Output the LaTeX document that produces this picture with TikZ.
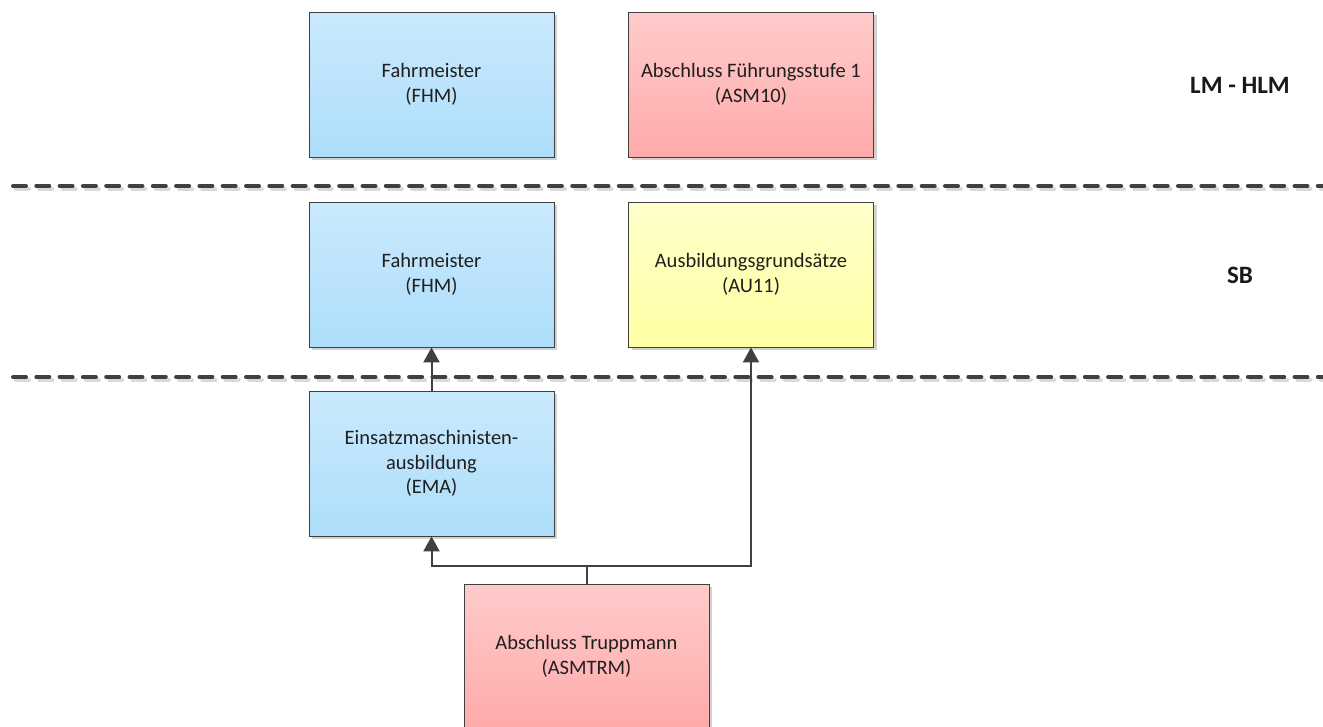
\documentclass[tikz,border=0pt]{standalone}
\usepackage{fontspec}
\setmainfont{Carlito}
\usetikzlibrary{arrows.meta,shadows}
\definecolor{bluetop}{HTML}{CAE9FC}
\definecolor{bluebot}{HTML}{ADDEFB}
\definecolor{redtop}{HTML}{FFCBCB}
\definecolor{redbot}{HTML}{FFAAAA}
\definecolor{yeltop}{HTML}{FFFFCA}
\definecolor{yelbot}{HTML}{FFFFA3}
\definecolor{linegray}{HTML}{404040}
\begin{document}
\begin{tikzpicture}[x=1pt,y=-1pt,
  box/.style={draw=linegray, line width=0.8pt, minimum width=245pt, minimum height=145pt,
    align=center, font=\fontsize{20.5}{24.5}\selectfont, text=black!88,
    drop shadow={shadow xshift=3pt, shadow yshift=-3pt, fill=black!18, opacity=1}},
  bluebox/.style={box, top color=bluetop, bottom color=bluebot},
  redbox/.style={box, top color=redtop, bottom color=redbot},
  yellowbox/.style={box, top color=yeltop, bottom color=yelbot},
  lane/.style={draw=linegray, line width=4pt, line cap=round, dash pattern=on 13pt off 10.3pt},
  laneshadow/.style={draw=black!15, line width=4pt, line cap=round, dash pattern=on 13pt off 10.3pt},
  link/.style={draw=linegray, line width=2pt},
  conn/.style={link, -{Triangle[length=15pt,width=16pt]}},
  level/.style={font=\fontsize{25}{30}\selectfont\bfseries, text=black!90}
]
\useasboundingbox (0,0) rectangle (1323,726);
\clip (0,0) rectangle (1323,726);
% lanes
\coordinate (l1a) at (13,186); \coordinate (l1b) at (1330,186);
\coordinate (l2a) at (13,377); \coordinate (l2b) at (1330,377);
\draw[laneshadow] ([shift={(3,3)}]l1a) -- ([shift={(3,3)}]l1b);
\draw[laneshadow] ([shift={(3,3)}]l2a) -- ([shift={(3,3)}]l2b);
\draw[lane] (l1a) -- (l1b);
\draw[lane] (l2a) -- (l2b);
% boxes
\node[bluebox] (fhm1) at (431.5,84.5) {Fahrmeister\\(FHM)};
\node[redbox] (asm10) at (751,84.5) {Abschluss Führungsstufe 1\\(ASM10)};
\node[bluebox] (fhm2) at (431.5,274.5) {Fahrmeister\\(FHM)};
\node[yellowbox] (au11) at (751,274.5) {Ausbildungsgrundsätze\\(AU11)};
\node[bluebox] (ema) at (431.5,463.5) {Einsatzmaschinisten-\\ausbildung\\(EMA)};
\node[redbox] (trm) at (586.5,656.5) {Abschluss Truppmann\\(ASMTRM)};
% levels
\node[level] (lm) at (1240,85) {LM - HLM};
\node[level] (sb) at (1240,275) {SB};
% connectors
\coordinate (j) at ([yshift=18pt]trm.north);
\draw[link] (trm.north) -- (j);
\draw[conn] (j) -| (ema.south);
\draw[conn] (j) -| (au11.south);
\draw[conn] (ema.north) -- (fhm2.south);
\end{tikzpicture}
\end{document}
